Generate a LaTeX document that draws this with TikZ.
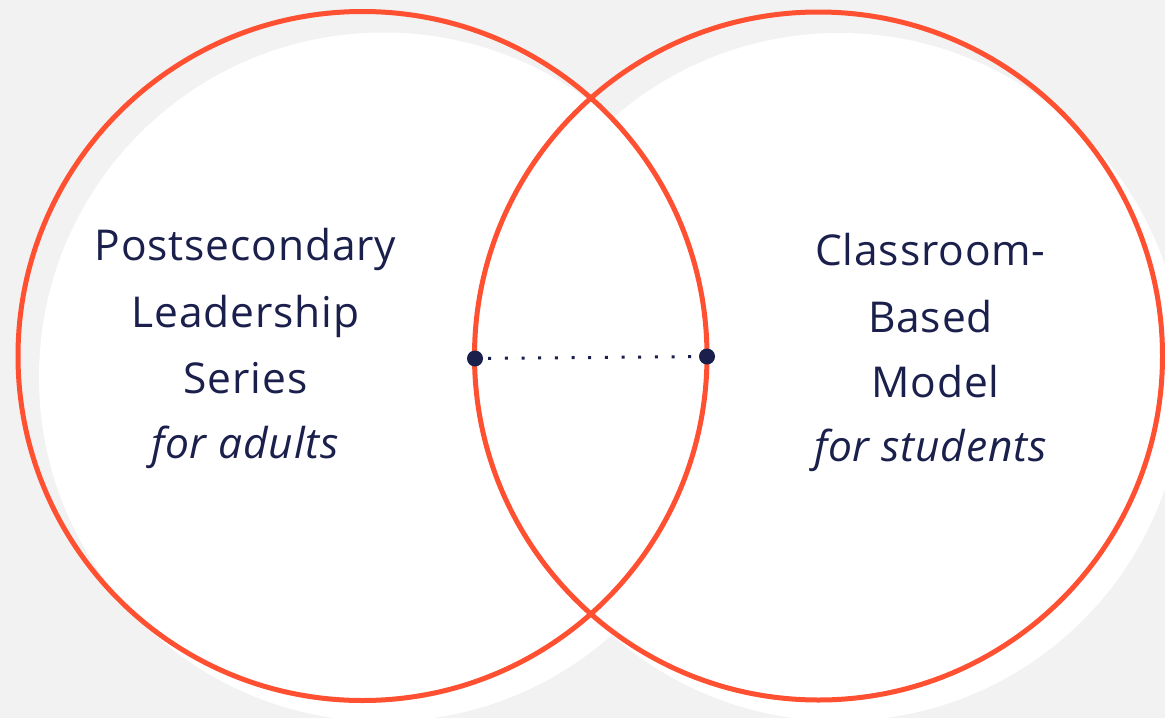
\documentclass[tikz,border=0pt]{standalone}
\usepackage{fontspec}
\setmainfont{Open Sans}[LetterSpace=2]
\definecolor{bg}{HTML}{F2F2F2}
\definecolor{ring}{HTML}{FF5032}
\definecolor{navy}{HTML}{1B1F4B}
\tikzset{
  ringstyle/.style={draw=ring, line width=5pt},
  paper/.style={fill=white},
  lbl/.style={text=navy, anchor=base, inner sep=0pt, font=\fontsize{42.5}{50}\selectfont},
  dotnode/.style={circle, fill=navy, minimum size=16pt, inner sep=0pt},
  link/.style={draw=navy, line width=3pt, dash pattern=on 3pt off 13.67pt, dash phase=11.67pt}
}
\begin{document}
\begin{tikzpicture}[x=1pt,y=-1pt]
\clip (0,0) rectangle (1165,718);
\fill[bg] (0,0) rectangle (1165,718);
% white discs (offset)
\fill[paper] (383.5,377) circle[radius=344.5];
\fill[paper] (839.5,377) circle[radius=344];
% red rings
\draw[ringstyle] (362.5,356) circle[radius=344.5];
\draw[ringstyle] (818.5,356) circle[radius=344];
% texts left
\node[lbl] (l1) at (245.5,260) {Postsecondary};
\node[lbl] (l2) at (245.5,327) {Leadership};
\node[lbl] (l3) at (245.5,393) {Series};
\node[lbl] (l4) at (245,458) {\itshape for adults};
% texts right
\node[lbl] (r1) at (930.5,265) {Classroom-};
\node[lbl] (r2) at (930.5,332) {Based};
\node[lbl] (r3) at (935.5,397) {Model};
\node[lbl] (r4) at (930.5,461) {\itshape for students};
% dots
\node[dotnode] (dl) at (475,358.5) {};
\node[dotnode] (dr) at (707,356.5) {};
\draw[link] (dl) -- (dr);
\end{tikzpicture}
\end{document}
